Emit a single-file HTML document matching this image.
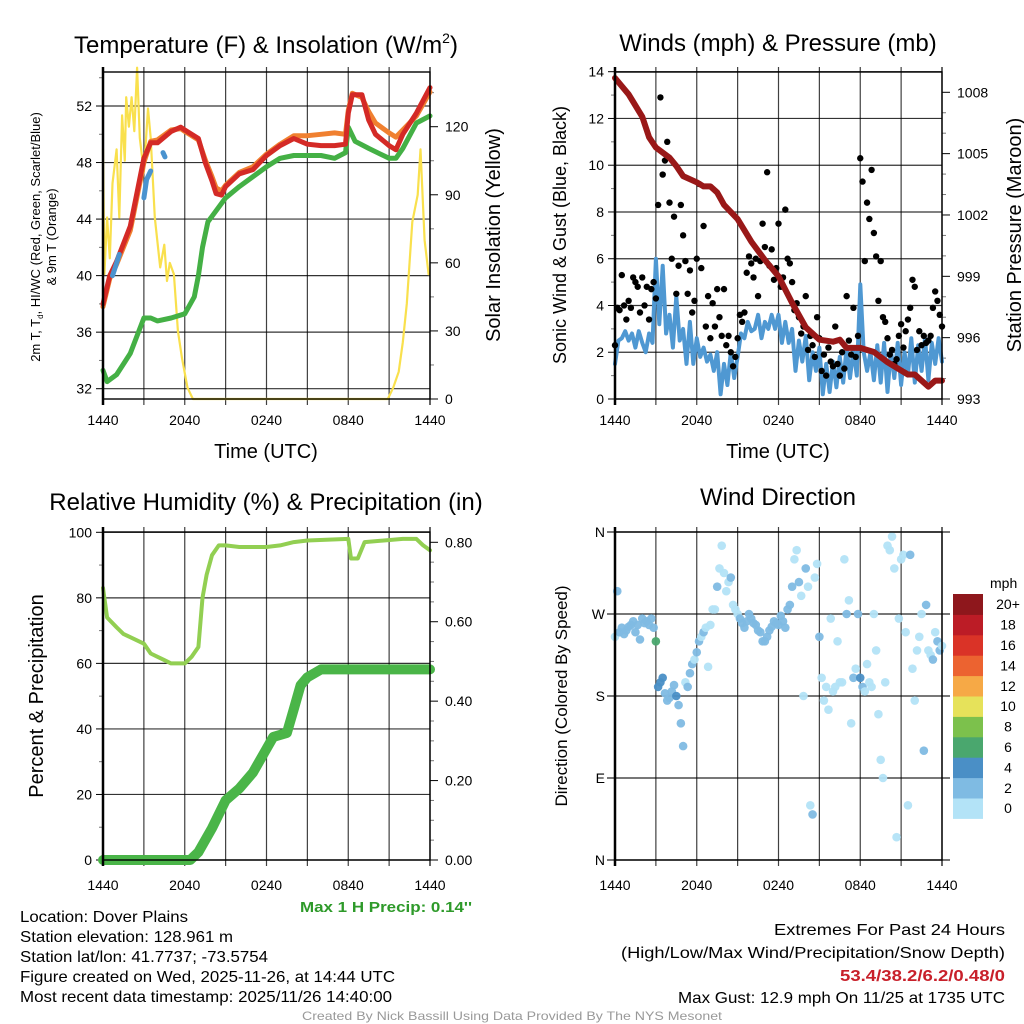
<!DOCTYPE html>
<html><head><meta charset="utf-8"><style>
html,body{margin:0;padding:0;background:#fff;}
svg{display:block;font-family:"Liberation Sans",sans-serif;}
.n{font-family:"Liberation Sans Narrow","Liberation Sans",sans-serif;}
</style></head><body>
<svg id="s" width="1024" height="1024" viewBox="0 0 1024 1024" xmlns="http://www.w3.org/2000/svg">
<g id="g"></g>
<text x="266" y="53" font-size="24" text-anchor="middle">Temperature (F) &amp; Insolation (W/m<tspan dy="-10" font-size="14">2</tspan><tspan dy="10">)</tspan></text>
<text x="778" y="51" font-size="24" text-anchor="middle">Winds (mph) &amp; Pressure (mb)</text>
<text x="266" y="510" font-size="24" text-anchor="middle">Relative Humidity (%) &amp; Precipitation (in)</text>
<text x="778" y="505" font-size="24" text-anchor="middle">Wind Direction</text>
<text transform="translate(40,237) rotate(-90)" font-size="13" text-anchor="middle">2m T, T<tspan font-size="8" dy="3">d</tspan><tspan dy="-3">, HI/WC (Red, Green, Scarlet/Blue)</tspan></text>
<text transform="translate(56,237) rotate(-90)" font-size="13" text-anchor="middle">&amp; 9m T (Orange)</text>
<text transform="translate(500,235) rotate(-90)" font-size="20" text-anchor="middle">Solar Insolation (Yellow)</text>
<text transform="translate(566,235) rotate(-90)" font-size="18" text-anchor="middle">Sonic Wind &amp; Gust (Blue, Black)</text>
<text transform="translate(1021,235) rotate(-90)" font-size="20" text-anchor="middle">Station Pressure (Maroon)</text>
<text transform="translate(43,696) rotate(-90)" font-size="20" text-anchor="middle">Percent &amp; Precipitation</text>
<text transform="translate(567,696) rotate(-90)" font-size="17" text-anchor="middle">Direction (Colored By Speed)</text>
<text x="266" y="458" font-size="20" text-anchor="middle">Time (UTC)</text>
<text x="778" y="458" font-size="20" text-anchor="middle">Time (UTC)</text>
<text x="472" y="912" font-size="15" font-weight="bold" fill="#2e9a2a" text-anchor="end" class="n" textLength="172" lengthAdjust="spacingAndGlyphs">Max 1 H Precip: 0.14''</text>
<g class="n" font-size="16">
<text x="20" y="922" textLength="168" lengthAdjust="spacingAndGlyphs">Location: Dover Plains</text>
<text x="20" y="942" textLength="213" lengthAdjust="spacingAndGlyphs">Station elevation: 128.961 m</text>
<text x="20" y="962" textLength="248" lengthAdjust="spacingAndGlyphs">Station lat/lon: 41.7737; -73.5754</text>
<text x="20" y="982" textLength="375" lengthAdjust="spacingAndGlyphs">Figure created on Wed, 2025-11-26, at 14:44 UTC</text>
<text x="20" y="1002" textLength="372" lengthAdjust="spacingAndGlyphs">Most recent data timestamp: 2025/11/26 14:40:00</text>
</g>
<g class="n" font-size="16" text-anchor="end">
<text x="1005" y="935" textLength="231" lengthAdjust="spacingAndGlyphs">Extremes For Past 24 Hours</text>
<text x="1005" y="958" textLength="384" lengthAdjust="spacingAndGlyphs">(High/Low/Max Wind/Precipitation/Snow Depth)</text>
<text x="1005" y="981" fill="#c8202a" font-weight="bold" textLength="165" lengthAdjust="spacingAndGlyphs">53.4/38.2/6.2/0.48/0</text>
<text x="1005" y="1003" textLength="327" lengthAdjust="spacingAndGlyphs">Max Gust: 12.9 mph On 11/25 at 1735 UTC</text>
</g>
<text x="512" y="1020" font-size="12" fill="#999" text-anchor="middle" class="n" textLength="420" lengthAdjust="spacingAndGlyphs">Created By Nick Bassill Using Data Provided By The NYS Mesonet</text>
</svg>
<script>
// ---- data ----
const xTickLabels=["1440","2040","0240","0840","1440"];
const redT_h=[0,0.5,1,2,3,3.5,4,5,5.7,6,7,7.5,8,8.3,8.7,9,10,11,12,13,14,15,16,17,17.8,18,18.3,19,19.5,20,21,21.5,22,23,24];
const redT_v=[38,40,41,43.5,48.3,49.4,49.4,50.2,50.5,50.3,49.7,48,46.7,45.8,45.7,46.3,47.2,47.5,48.5,49.2,49.7,49.3,49.2,49.2,49.3,51.5,52.8,52.8,51,50,49.2,48.9,50,51.5,53.3];
const orT_v=[37.8,39.8,40.8,43.2,48,49.5,49.6,50.3,50.4,50.2,49.6,48.2,47,46.2,46,46.4,47.3,47.7,48.6,49.3,49.9,49.9,50,50.1,50,51.7,52.9,52.6,51.6,50.8,50.1,49.8,50.3,51.3,53];
const dew_h=[0,0.3,1,2,3,3.5,4,5,6,6.7,7,7.3,7.7,8,9,10,11,12,13,14,15,16,17,17.8,18,18.5,19.5,21,21.5,22,23,24];
const dew_v=[33.3,32.5,33,34.5,37,37,36.8,37,37.3,38.5,40,42,43.8,44.2,45.5,46.3,47,47.7,48.3,48.5,48.5,48.5,48.3,48.7,50.5,49.5,49,48.3,48.3,49,50.8,51.3];
const wc1_h=[0.7,0.9,1.2], wc1_v=[40,40.6,41.5];
const wc2_h=[3,3.2,3.5], wc2_v=[45.5,46.8,47.4];
const wc3_h=[4.4,4.55], wc3_v=[48.7,48.4];
const sol_h=[0,0.1,0.3,0.5,0.7,1,1.2,1.4,1.6,1.7,1.9,2.1,2.3,2.5,2.7,3,3.3,3.5,3.8,4.2,4.5,4.7,4.9,5.2,5.5,5.8,6.2,6.6,20.9,21.3,21.7,22,22.3,22.7,23.1,23.3,23.6,23.9];
const sol_v=[110,55,80,62,95,110,80,125,105,133,120,133,118,146,115,100,128,115,80,58,68,52,60,55,30,18,5,0,0,5,12,25,42,78,90,110,70,55];
const pres_h=[0,1,2,2.5,3,4,4.5,5,6,6.5,7,7.5,8,9,10,11,12,13,14,15,16,16.5,17,18,19,20,21,21.5,22,23,23.5,24];
const pres_v=[1008.7,1007.9,1006.8,1005.8,1005.3,1004.8,1004.4,1003.9,1003.6,1003.4,1003.4,1003.1,1002.5,1001.8,1000.7,999.8,999.0,997.7,996.5,995.9,995.8,995.9,995.5,995.5,995.3,994.8,994.4,994.2,994.2,993.6,993.9,993.9];
const wind_v=[1.5,2.5,2.6,2.9,2.5,2.8,2.2,2.9,2.4,2.0,2.8,2.4,6.0,
3.2,5.7,2.8,3.6,2.2,4.4,2.5,3.0,1.5,3.3,1.5,2.6,
1.8,2.2,1.6,1.9,1.2,2.0,0.2,1.5,0.6,2.0,0.9,1.8,
2.8,2.6,3.3,2.9,3.0,3.6,2.6,3.3,3.0,3.6,3.0,3.6,
2.4,3.3,2.4,3.0,1.2,2.5,1.6,2.7,0.8,2.0,1.2,2.2,
0.2,1.5,0.3,1.6,0.5,1.8,0.7,2.2,0.9,2.1,1.0,4.9,
2.0,1.2,2.0,0.8,2.3,0.7,2.4,0.3,2.1,0.9,2.4,0.6,
2.0,1.0,2.6,0.7,2.3,1.2,2.6,0.8,2.4,1.5,2.6,1.6];
const gust_v=[2.3,3.9,3.8,5.3,4.0,3.4, 4.2,3.9,5.2,5.0,4.8,3.7, 5.2,4.0,4.8,3.4,4.7,5.0, 4.3,8.3,12.9,9.6,10.2,11.0,
8.4,6.0,7.8,4.5,5.7,8.3, 7.0,5.9,4.5,5.5,3.7,4.2, 6.0,9.2,5.6,7.4,3.1,4.4, 2.6,4.1,3.1,4.7,3.5,2.7,
4.7,2.3,2.7,2.0,1.4,1.8, 2.6,3.6,3.3,3.7,5.4,6.1, 5.8,5.2,6.0,4.4,5.9,7.5, 6.5,9.7,5.7,6.4,5.1,5.6,
7.5,4.8,5.2,8.1,6.0,5.8, 5.0,3.8,4.1,3.5,2.8,3.1, 4.4,2.1,2.7,2.3,1.8,3.5, 2.6,1.2,1.9,1.0,2.2,1.6,
1.4,3.1,1.5,1.0,2.0,1.3, 4.4,2.5,1.9,3.9,1.8,2.7, 10.3,9.3,5.9,8.4,7.7,9.8, 7.1,6.1,4.2,5.9,3.5,3.3,
2.6,1.9,2.1,1.5,1.7,2.7, 3.2,2.2,2.9,3.4,3.9,5.1, 4.8,2.1,2.9,2.3,2.7,2.4, 2.5,2.7,3.9,4.6,4.2,3.6, 3.1];
const dir_v=[245,295,250,255,248,252, 256,258,262,250,258,242, 265,260,262,258,265,255, 240,190,195,200,183,175,
178,185,192,180,170,150, 125,195,190,205,215,220, 228,240,245,250,255,212, 258,275,275,300,320,345,
315,295,305,310,280,275, 270,265,260,255,262,270, 265,260,258,252,250,240, 240,245,252,256,262,260,
258,268,262,255,275,280, 300,330,340,305,290,180, 320,300,60,50,310,325, 245,200,175,190,165,265,
185,190,240,195,195,330, 270,285,150,200,210,270, 200,190,185,215,195,190, 270,230,160,110,90,195,
345,340,355,320,25,265, 330,335,250,60,335,210, 175,230,245,270,120,280, 230,225,220,250,240,230, 235];
const rh_h=[0,0.3,1,1.5,2,3,3.5,4,4.5,5,6,6.5,7,7.3,7.6,8,8.5,9,10,11,12,13,14,15,18,18.2,18.7,19.2,22,23,23.5,24];
const rh_v=[83,74,71,69,68,66,63,62,61,60,60,62,65,80,87,93,96,96,95.5,95.5,95.5,96,97,97.5,98,92,92,97,98,98,96,94.5];
const pr_h=[0,6.4,7,8,9,10,11,12,12.5,13.5,14,14.5,15,16,24];
const pr_v=[0,0,0.02,0.08,0.15,0.18,0.22,0.28,0.31,0.32,0.38,0.44,0.46,0.48,0.48];
const cbLabels=["0","2","4","6","8","10","12","14","16","18","20+"];
const cbColors=["#b3e3f7","#7fbbe3","#4a8fc6","#4aa76e","#7cc14c","#e6e25a","#f6a946","#ec6330","#da3327","#bc1c26","#8e171c"];

const NS="http://www.w3.org/2000/svg";
const G=document.getElementById('g');
function mk(t,a,p){const e=document.createElementNS(NS,t);for(const k in a)e.setAttribute(k,a[k]);(p||G).appendChild(e);return e;}
function lin(d0,d1,r0,r1){return v=>r0+(v-d0)*(r1-r0)/(d1-d0);}
function path(hs,vs,X,Y){return hs.map((h,i)=>(i?'L':'M')+X(h).toFixed(1)+','+Y(vs[i]).toFixed(1)).join('');}
function interp(hs,vs,h){for(let i=1;i<hs.length;i++){if(h<=hs[i]){const t=(h-hs[i-1])/(hs[i]-hs[i-1]);return vs[i-1]+t*(vs[i]-vs[i-1]);}}return vs[vs.length-1];}

function frame(L,R,T,B,name,lblOff){
  const X=lin(0,24,L,R);
  for(let h=3;h<24;h+=3){const l=mk('line',{x1:X(h),x2:X(h),y1:T-5,y2:B+6,stroke:'#000','stroke-width':1.2,'stroke-opacity':0.75});
    
    }
  xTickLabels.forEach((s,i)=>{const t=mk('text',{x:X(i*6),y:B+lblOff,'font-size':14,'text-anchor':'middle'});t.textContent=s;
    
    });
  return X;
}
function border(L,R,T,B,name){
  const r=mk('rect',{x:L,y:T,width:R-L,height:B-T,fill:'none',stroke:'#000','stroke-width':1.4});
  
  
  mk('line',{x1:L,x2:L,y1:T-5,y2:B+6,stroke:'#000','stroke-width':2.5});
  mk('line',{x1:R,x2:R,y1:T-5,y2:B+6,stroke:'#000','stroke-width':1.2});
}
function yAxis(vals,labels,Y,x0,x1,grid,side,name,minor){
  vals.forEach((v,i)=>{const y=Y(v);
    if(grid){mk('line',{x1:x0,x2:x1,y1:y,y2:y,stroke:'#000','stroke-width':1.2,'stroke-opacity':0.8});}
    if(side==='L'){mk('line',{x1:x0-7,x2:x0,y1:y,y2:y,stroke:'#000','stroke-width':1});
      const t=mk('text',{x:x0-11,y:y+5,'font-size':14,'text-anchor':'end'});t.textContent=labels[i];
      
      }
    else{mk('line',{x1:x1,x2:x1+8,y1:y,y2:y,stroke:'#000','stroke-width':1});
      const t=mk('text',{x:x1+15,y:y+5,'font-size':14});t.textContent=labels[i];
      
      }
  });
  if(minor){minor.forEach(v=>{const y=Y(v);
    if(side==='L')mk('line',{x1:x0-4,x2:x0,y1:y,y2:y,stroke:'#777','stroke-width':1});
    else mk('line',{x1:x1,x2:x1+4,y1:y,y2:y,stroke:'#777','stroke-width':1});});}
}
function line(d,color,w,name,op){const p=mk('path',{d:d,fill:'none',stroke:color,'stroke-width':w,'stroke-linejoin':'round','stroke-linecap':'round','stroke-opacity':op||1});
  
  return p;}

// ---- panel 1 ----
{const L=103,R=430,T=72,B=399;
 const X=frame(L,R,T,B,'temperature',26);
 const Y=lin(32,52,388.7,106), Ys=lin(0,120,399,126.7);
 yAxis([32,36,40,44,48,52],["32","36","40","44","48","52"],Y,L,R,true,'L','temperature',[34,38,42,46,50,54]);
 yAxis([0,30,60,90,120],["0","30","60","90","120"],Ys,L,R,false,'R','solar',[15,45,75,105,135]);
 line(path(sol_h,sol_v,X,Ys),'#f9e04d',2.2,'solar-insolation-line');
 line(path(dew_h,dew_v,X,Y),'#44b045',5,'dewpoint-line');
 line(path(redT_h,orT_v,X,Y),'#f08030',5,'temperature-9m-line');
 line(path(redT_h,redT_v,X,Y),'#d42a26',5,'temperature-2m-line');
 line(path(wc1_h,wc1_v,X,Y),'#4a93cf',5,'windchill-line-1');
 line(path(wc2_h,wc2_v,X,Y),'#4a93cf',5,'windchill-line-2');
 line(path(wc3_h,wc3_v,X,Y),'#4a93cf',5,'windchill-line-3');
 border(L,R,T,B,'temperature');}

// ---- panel 2 ----
{const L=615,R=942,T=72,B=399;
 const X=frame(L,R,T,B,'winds',26);
 const Y=lin(0,14,399,71.7), Yp=lin(993,1008,399,92.3);
 yAxis([0,2,4,6,8,10,12,14],["0","2","4","6","8","10","12","14"],Y,L,R,true,'L','winds',[1,3,5,7,9,11,13]);
 yAxis([993,996,999,1002,1005,1008],["993","996","999","1002","1005","1008"],Yp,L,R,false,'R','pressure',[994,995,997,998,1000,1001,1003,1004,1006,1007]);
 const wh=wind_v.map((v,i)=>i*0.25);
 line(path(wh,wind_v,X,Y),'#4f98d2',4,'sonic-wind-line');
 gust_v.forEach((v,i)=>{const c=mk('circle',{cx:X(i/6),cy:Y(v),r:3.2,fill:'#000'});
   
   });
 line(path(pres_h,pres_v,X,Yp),'#991818',6,'pressure-line');
 border(L,R,T,B,'winds');}

// ---- panel 3 ----
{const L=103,R=430,T=532,B=860;
 const X=frame(L,R,T,B,'humidity',30);
 const Y=lin(0,100,860,532.3), Yp=lin(0,0.8,860,542.3);
 yAxis([0,20,40,60,80,100],["0","20","40","60","80","100"],Y,L,R,true,'L','humidity',[10,30,50,70,90]);
 yAxis([0,0.2,0.4,0.6,0.8],["0.00","0.20","0.40","0.60","0.80"],Yp,L,R,false,'R','precip',[0.05,0.1,0.15,0.25,0.3,0.35,0.45,0.5,0.55,0.65,0.7,0.75]);
 line(path(rh_h,rh_v,X,Y),'#92cf52',4,'relative-humidity-line');
 line(path(pr_h,pr_v,X,Yp),'#4ab548',10,'precipitation-line');
 border(L,R,T,B,'humidity');}

// ---- panel 4 ----
{const L=615,R=942,T=532,B=860;
 const X=frame(L,R,T,B,'direction',30);
 const Y=lin(0,360,860,532);
 [0,90,180,270,360].forEach((v,i)=>{const y=Y(v);mk('line',{x1:L-8,x2:R+8,y1:y,y2:y,stroke:'#000','stroke-width':1.2,'stroke-opacity':0.85});
   const t=mk('text',{x:L-10,y:y+5,'font-size':14,'text-anchor':'end'});t.textContent=["N","E","S","W","N"][i];
   
   });
 const wh=wind_v.map((v,i)=>i*0.25);
 dir_v.forEach((d,i)=>{const h=i/6;const s=interp(wh,wind_v,h);const k=Math.min(10,Math.floor(s/2));
   const c=mk('circle',{cx:X(h),cy:Y(d),r:4.3,fill:cbColors[k],'fill-opacity':0.95});
   
   });
 border(L,R,T,B,'direction');
 const cbT=594,cbH=20.4;
 const mph=mk('text',{x:990,y:588,'font-size':14});mph.textContent='mph';
 
 
 cbLabels.forEach((s,i)=>{const j=10-i;const y=cbT+j*cbH;
   const r=mk('rect',{x:953,y:y,width:30,height:cbH+0.5,fill:cbColors[i]});
   
   
   const t=mk('text',{x:1008,y:y+cbH/2+5,'font-size':14,'text-anchor':'middle'});t.textContent=s;
   
   });}
</script>
</body></html>
